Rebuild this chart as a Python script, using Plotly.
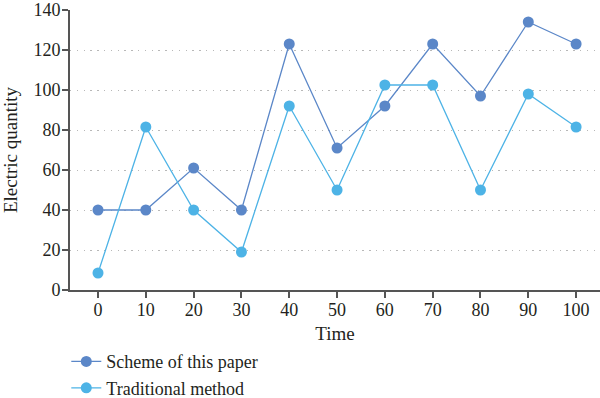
import plotly.graph_objects as go

time = [0, 10, 20, 30, 40, 50, 60, 70, 80, 90, 100]
scheme = [40, 40, 61, 40, 123, 71, 92, 123, 97, 134, 123]
traditional = [8.5, 81.5, 40, 19, 92, 50, 102.5, 102.5, 50, 98, 81.5]
x_ticks = [0, 10, 20, 30, 40, 50, 60, 70, 80, 90, 100]
y_ticks = [0, 20, 40, 60, 80, 100, 120, 140]

font_family = "Liberation Serif"
text_color = "#231F20"

fig = go.Figure()
fig.add_trace(go.Scatter(
    x=time, y=scheme, mode="lines+markers", name="Scheme of this paper",
    line=dict(color="#5B87C8", width=1.3),
    marker=dict(color="#5B87C8", size=11),
))
fig.add_trace(go.Scatter(
    x=time, y=traditional, mode="lines+markers", name="Traditional method",
    line=dict(color="#4DB3E6", width=1.3),
    marker=dict(color="#4DB3E6", size=11),
))

fig.update_layout(
    width=600, height=398,
    margin=dict(l=70, r=0, t=10, b=108, autoexpand=False),
    paper_bgcolor="white", plot_bgcolor="white",
    font=dict(family=font_family, size=18, color=text_color),
    showlegend=True,
    legend=dict(
        x=-0.007, y=-0.19, xanchor="left", yanchor="top",
        bgcolor="rgba(0,0,0,0)", tracegroupgap=0,
        font=dict(size=18, family=font_family, color=text_color),
        itemwidth=30,
    ),
    xaxis=dict(
        range=[-5.86, 105.0], tickvals=x_ticks, automargin=False,
        showline=True, linecolor="#555555", linewidth=2,
        ticks="outside", ticklen=6, tickcolor="#555555", tickwidth=2,
        ticklabelstandoff=-4,
        showgrid=False, zeroline=False,
        title=dict(text="Time", font=dict(size=19), standoff=8),
    ),
    yaxis=dict(
        range=[0, 140], tickvals=y_ticks, automargin=False,
        showline=True, linecolor="#555555", linewidth=2,
        ticks="outside", ticklen=6, tickcolor="#555555", tickwidth=2,
        ticklabelstandoff=-2,
        showgrid=True, gridcolor="#B8B8B8", gridwidth=1.3, griddash="1.3px,5.5px",
        zeroline=False,
        title=dict(text="Electric quantity", font=dict(size=19), standoff=12),
    ),
)

fig.write_html(
    "out.html",
    config={"displayModeBar": False},
    post_script="document.body.style.margin='0';document.body.style.overflow='hidden';",
)
